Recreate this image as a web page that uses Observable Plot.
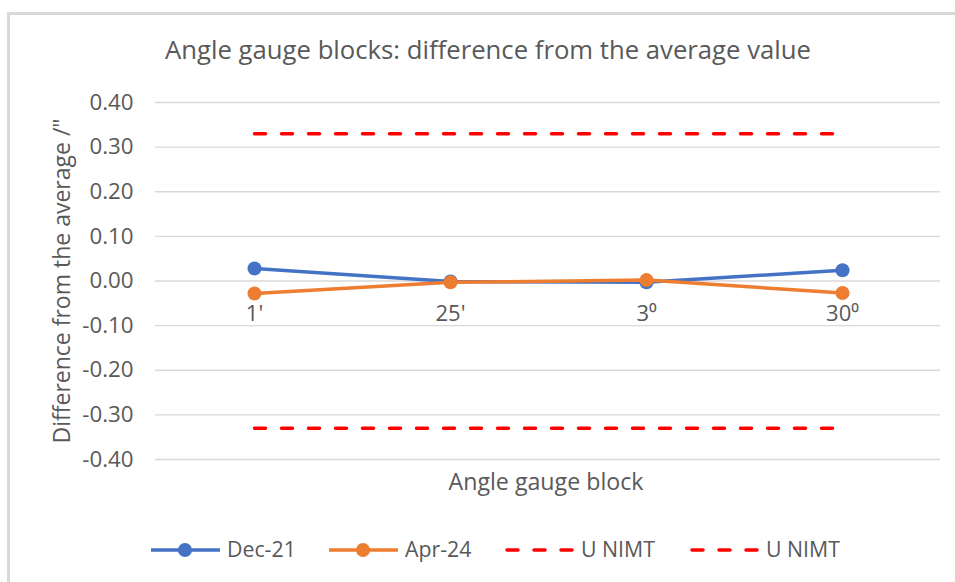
<!DOCTYPE html>
<html><head><meta charset="utf-8">
<script src="https://cdn.jsdelivr.net/npm/d3@7"></script>
<script src="https://cdn.jsdelivr.net/npm/@observablehq/plot@0.6"></script>
<style>
body{margin:0;background:#fff;}
#wrap{position:relative;width:955px;height:582px;overflow:hidden;font-family:"Open Sans",sans-serif;color:#595959;}
#frame{position:absolute;left:7px;top:12px;width:960px;height:600px;border-left:3px solid #d9d9d9;border-top:3px solid #d9d9d9;}
#title{position:absolute;top:35px;left:0;width:976px;text-align:center;font-size:25.7px;line-height:30px;white-space:nowrap;}
#chart{position:absolute;left:0;top:0;}
#legend{position:absolute;left:0;top:528px;}
</style></head>
<body><div id="wrap"><div id="frame"></div><div id="title">Angle gauge blocks: difference from the average value</div><div id="chart"></div><svg id="legend" width="955" height="45"></svg></div>
<script>
const categories = ["1'", "25'", "3⁰", "30⁰"];
const dec21 = [0.028, -0.001, -0.003, 0.024];
const apr24 = [-0.028, -0.003, 0.002, -0.027];
const uUpper = [0.33, 0.33, 0.33, 0.33];
const uLower = [-0.33, -0.33, -0.33, -0.33];
const yTicks = [-0.4, -0.3, -0.2, -0.1, 0, 0.1, 0.2, 0.3, 0.4];

const rows = (vals, s) => categories.map((c, i) => ({cat: c, v: vals[i], s}));
const dDec = rows(dec21, "Dec-21");
const dApr = rows(apr24, "Apr-24");
const dU1 = rows(uUpper, "U NIMT");
const dU2 = rows(uLower, "U NIMT 2");
const fmt = d => d.toFixed(2).replace("−", "-");
const font = "'Open Sans', sans-serif";

const chart = Plot.plot({
  width: 955, height: 510,
  marginLeft: 155, marginRight: 15, marginTop: 102, marginBottom: 51,
  style: {fontFamily: font, color: "#595959", background: "transparent", overflow: "visible"},
  x: {type: "point", domain: categories, padding: 0.5, axis: null},
  y: {domain: [-0.4, 0.4], axis: null},
  marks: [
    Plot.gridY(yTicks, {stroke: "#d9d9d9", strokeOpacity: 1, strokeWidth: 1.3}),
    Plot.text(yTicks, {y: d => d, text: fmt, frameAnchor: "left", textAnchor: "end", dx: -22, fontSize: 22.3, fill: "#595959"}),
    Plot.text(["Difference from the average /\""], {frameAnchor: "left", textAnchor: "middle", dx: -93, rotate: -90, fontSize: 23, fill: "#595959"}),
    Plot.text(["Angle gauge block"], {frameAnchor: "bottom", dx: -2, dy: 30, fontSize: 23.2, fill: "#595959"}),
    Plot.text(categories, {x: d => d, y: 0, dy: 33, fontSize: 22, fill: "#595959"}),
    Plot.line(dDec, {x: "cat", y: "v", stroke: "#4472C4", strokeWidth: 3.5}),
    Plot.dot(dDec, {x: "cat", y: "v", r: 7, fill: "#4472C4"}),
    Plot.line(dApr, {x: "cat", y: "v", stroke: "#ED7D31", strokeWidth: 3.5}),
    Plot.dot(dApr, {x: "cat", y: "v", r: 7, fill: "#ED7D31"}),
    Plot.line(dU1, {x: "cat", y: "v", stroke: "#FF0000", strokeWidth: 3.5, strokeLinecap: "round", strokeDasharray: "11,16"}),
    Plot.line(dU2, {x: "cat", y: "v", stroke: "#FF0000", strokeWidth: 3.5, strokeLinecap: "round", strokeDasharray: "11,16"})
  ]
});
document.getElementById("chart").appendChild(chart);

const legendItems = [
  {label: "Dec-21", color: "#4472C4", x: 151, dash: null, marker: true},
  {label: "Apr-24", color: "#ED7D31", x: 329, dash: null, marker: true},
  {label: "U NIMT", color: "#FF0000", x: 505, dash: "11,16", marker: false},
  {label: "U NIMT", color: "#FF0000", x: 690, dash: "11,16", marker: false}
];
const lg = d3.select("#legend");
const cy = 22;
legendItems.forEach(it => {
  const g = lg.append("g");
  g.append("line").attr("x1", it.dash ? it.x + 2 : it.x).attr("x2", it.x + 69).attr("y1", cy).attr("y2", cy)
    .attr("stroke", it.color).attr("stroke-width", 3.5)
    .attr("stroke-linecap", it.dash ? "round" : "butt").attr("stroke-dasharray", it.dash);
  if (it.marker) g.append("circle").attr("cx", it.x + 34).attr("cy", cy).attr("r", 7).attr("fill", it.color);
  g.append("text").attr("x", it.x + 76).attr("y", cy).attr("dy", "0.35em").attr("font-size", 21.3)
    .attr("fill", "#595959").attr("font-family", font).text(it.label);
});
</script></body></html>
